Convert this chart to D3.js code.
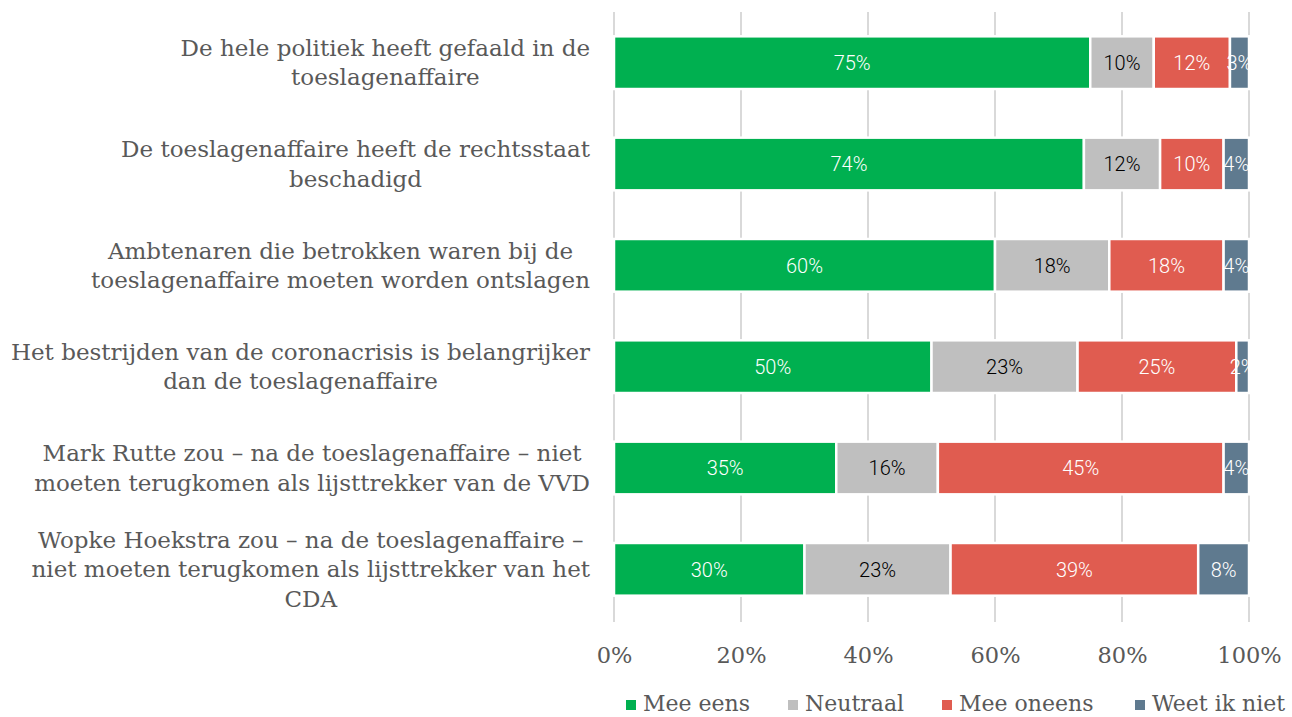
<!DOCTYPE html>
<html>
<head>
<meta charset="utf-8">
<script src="https://cdn.jsdelivr.net/npm/d3@7"></script>
<style>
  body { margin: 0; background: #fff; }
  svg { display: block; }
</style>
</head>
<body>
<svg id="chart"></svg>
<script>
// categories (lines split where the original wraps)
const categories = [
  "De hele politiek heeft gefaald in de\ntoeslagenaffaire",
  "De toeslagenaffaire heeft de rechtsstaat\nbeschadigd",
  "Ambtenaren die betrokken waren bij de\ntoeslagenaffaire moeten worden ontslagen",
  "Het bestrijden van de coronacrisis is belangrijker\ndan de toeslagenaffaire",
  "Mark Rutte zou – na de toeslagenaffaire – niet\nmoeten terugkomen als lijsttrekker van de VVD",
  "Wopke Hoekstra zou – na de toeslagenaffaire –\nniet moeten terugkomen als lijsttrekker van het\nCDA"
];
const seriesNames = ["Mee eens", "Neutraal", "Mee oneens", "Weet ik niet"];
const meeEens   = [75, 74, 60, 50, 35, 30];
const neutraal  = [10, 12, 18, 23, 16, 23];
const meeOneens = [12, 10, 18, 25, 45, 39];
const weetIkNiet = [3, 4, 4, 2, 4, 8];
const xTicks = [0, 20, 40, 60, 80, 100];

const colors = ["#00b050", "#bfbfbf", "#e05c50", "#5f7a8f"];
const labelColors = ["#ffffff", "#000000", "#ffffff", "#ffffff"];

const W = 1292, H = 717;
const serif = "'DejaVu Serif', serif";
const sans = "Roboto, sans-serif";

const svg = d3.select("#chart").attr("width", W).attr("height", H);

const x = d3.scaleLinear().domain([0, 100]).range([614, 1249]);
const y = d3.scaleBand()
  .domain(categories)
  .range([12, 620])
  .paddingInner(0.48)
  .paddingOuter(0.24);

// build stacked table
const table = categories.map((c, i) => ({
  cat: c,
  "Mee eens": meeEens[i],
  "Neutraal": neutraal[i],
  "Mee oneens": meeOneens[i],
  "Weet ik niet": weetIkNiet[i]
}));
const stacked = d3.stack().keys(seriesNames)(table);

// gridlines
svg.append("g")
  .selectAll("line")
  .data(xTicks)
  .join("line")
  .attr("x1", d => x(d))
  .attr("x2", d => x(d))
  .attr("y1", 12)
  .attr("y2", 622)
  .attr("stroke", "#d9d9d9")
  .attr("stroke-width", 2);

// bars
const layers = svg.append("g")
  .selectAll("g")
  .data(stacked)
  .join("g")
  .attr("fill", (d, i) => colors[i]);

layers.selectAll("rect")
  .data(d => d)
  .join("rect")
  .attr("x", d => x(d[0]))
  .attr("y", d => y(d.data.cat))
  .attr("width", d => x(d[1]) - x(d[0]))
  .attr("height", y.bandwidth())
  .attr("stroke", "#fff")
  .attr("stroke-width", 2.5);

// data labels
stacked.forEach((layer, i) => {
  svg.append("g")
    .selectAll("text")
    .data(layer)
    .join("text")
    .attr("x", d => (x(d[0]) + x(d[1])) / 2)
    .attr("y", d => y(d.data.cat) + y.bandwidth() / 2)
    .attr("dy", "0.36em")
    .attr("text-anchor", "middle")
    .style("font-family", sans)
    .style("font-size", "20px")
    .style("font-weight", 300)
    .attr("fill", labelColors[i])
    .text(d => (d[1] - d[0]) + "%");
});

// category labels: centred block, right edge at x=590
const lineH = 29.5;
const catG = svg.append("g");
categories.forEach(c => {
  const lines = c.split("\n");
  const t = catG.append("text")
    .style("font-family", serif)
    .style("font-size", "23px")
    .attr("fill", "#595959")
    .attr("text-anchor", "middle");
  const cy = y(c) + y.bandwidth() / 2;
  lines.forEach((ln, j) => {
    t.append("tspan")
      .attr("y", cy + (j - (lines.length - 1) / 2) * lineH)
      .attr("dy", "0.35em")
      .text(ln);
  });
  let maxW = 0;
  t.selectAll("tspan").each(function () {
    maxW = Math.max(maxW, this.getComputedTextLength());
  });
  t.selectAll("tspan").attr("x", 590 - maxW / 2);
});

// x axis
const axis = svg.append("g")
  .attr("transform", "translate(0,640)")
  .call(d3.axisBottom(x).tickValues(xTicks).tickFormat(d => d + "%").tickSize(0).tickPadding(0));
axis.select(".domain").remove();
axis.selectAll("text")
  .attr("dy", "0.35em")
  .attr("y", 15)
  .style("font-family", serif)
  .style("font-size", "22.5px")
  .attr("fill", "#595959");

// legend
const legendX = [626, 788, 942, 1135];
const legend = svg.append("g")
  .selectAll("g")
  .data(seriesNames)
  .join("g")
  .attr("transform", (d, i) => `translate(${legendX[i]},703)`);
legend.append("rect")
  .attr("x", 0)
  .attr("y", -3)
  .attr("width", 10)
  .attr("height", 10)
  .attr("fill", (d, i) => colors[i]);
legend.append("text")
  .attr("x", 17)
  .attr("dy", "0.35em")
  .style("font-family", serif)
  .style("font-size", "22px")
  .attr("fill", "#595959")
  .text(d => d);
</script>
</body>
</html>
